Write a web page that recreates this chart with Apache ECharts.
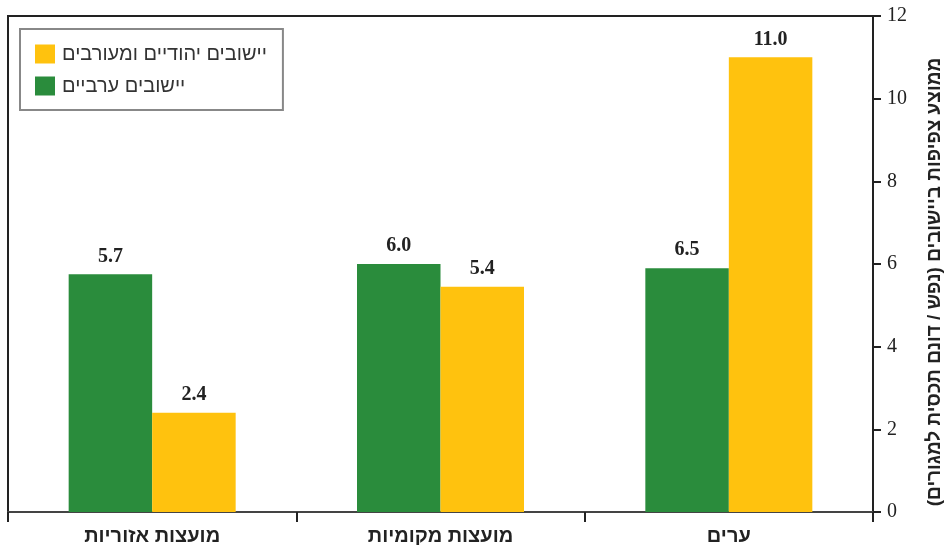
<!DOCTYPE html>
<html>
<head>
<meta charset="utf-8">
<script src="https://cdn.jsdelivr.net/npm/echarts@6/dist/echarts.min.js"></script>
<style>
html,body{margin:0;padding:0;background:#fff;}
#c{width:945px;height:545px;}
</style>
</head>
<body>
<div id="c"></div>
<script>
// Data
const categories = ['מועצות אזוריות', 'מועצות מקומיות', 'ערים'];
const seriesNames = ['יישובים ערביים', 'יישובים יהודיים ומעורבים'];
// bar heights as drawn in the picture
const arabValues = [5.75, 6.0, 5.9];
const jewishValues = [2.4, 5.45, 11.0];
// value labels as printed
const arabLabels = ['5.7', '6.0', '6.5'];
const jewishLabels = ['2.4', '5.4', '11.0'];
const yTicks = [0, 2, 4, 6, 8, 10, 12];
const yAxisTitle = 'ממוצע צפיפות ביישובים (נפש / דונם תכסית למגורים)\u200F';

const chart = echarts.init(document.getElementById('c'), null, {renderer: 'canvas'});

const labelStyle = {
  show: true,
  position: 'top',
  distance: 8,
  fontFamily: 'Liberation Serif',
  fontWeight: 'bold',
  fontSize: 20,
  color: '#222'
};

chart.setOption({
  animation: false,
  backgroundColor: '#fff',
  grid: {
    left: 8, right: 72, top: 16, bottom: 33,
    containLabel: false,
    outerBoundsMode: 'none',
    show: true, borderColor: '#222', borderWidth: 2, backgroundColor: 'transparent'
  },
  legend: {
    orient: 'vertical',
    left: 20, top: 29,
    data: [seriesNames[1], seriesNames[0]],
    icon: 'rect',
    itemWidth: 20, itemHeight: 19, itemGap: 12,
    padding: [15, 16, 14, 15],
    borderColor: '#888', borderWidth: 2,
    textStyle: {fontFamily: 'Liberation Sans', fontSize: 20, color: '#333', padding: [0, 0, 0, 2]}
  },
  xAxis: {
    type: 'category',
    data: categories,
    axisLine: {show: true, lineStyle: {color: '#444', width: 2}},
    axisTick: {show: true, length: 10, lineStyle: {color: '#222', width: 2}},
    axisLabel: {
      margin: 14,
      fontFamily: 'Liberation Sans', fontWeight: 'bold', fontSize: 20, color: '#222'
    },
    splitLine: {show: false}
  },
  yAxis: {
    type: 'value',
    position: 'right',
    min: yTicks[0], max: yTicks[yTicks.length - 1], interval: 2,
    axisLine: {show: true, lineStyle: {color: '#222', width: 2}},
    axisTick: {show: true, inside: false, length: 8, lineStyle: {color: '#222', width: 2}},
    axisLabel: {margin: 14, fontFamily: 'Liberation Serif', fontSize: 20, color: '#222'},
    splitLine: {show: false},
    name: yAxisTitle,
    nameLocation: 'middle',
    nameRotate: 90,
    nameGap: 52,
    nameTextStyle: {
      fontFamily: 'Liberation Sans', fontWeight: 'bold', fontSize: 19, color: '#222',
      padding: [0, 36, 0, 0]
    }
  },
  series: [
    {
      name: seriesNames[0],
      type: 'bar',
      data: arabValues,
      barWidth: 83.5,
      barGap: '0%',
      itemStyle: {color: '#2A8C3C'},
      label: Object.assign({}, labelStyle, {formatter: p => arabLabels[p.dataIndex]})
    },
    {
      name: seriesNames[1],
      type: 'bar',
      data: jewishValues,
      barWidth: 83.5,
      barGap: '0%',
      itemStyle: {color: '#FFC20E'},
      label: Object.assign({}, labelStyle, {formatter: p => jewishLabels[p.dataIndex]})
    }
  ]
});
</script>
</body>
</html>
